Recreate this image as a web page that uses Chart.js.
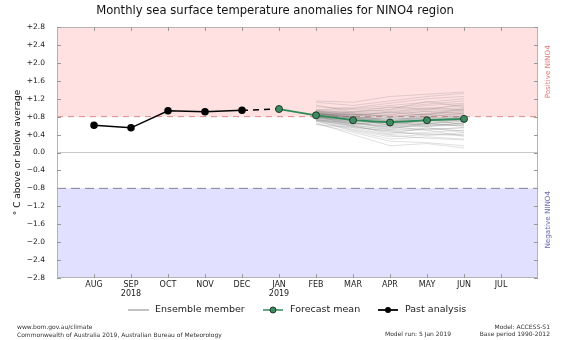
<!DOCTYPE html>
<html>
<head>
<meta charset="utf-8">
<script src="https://cdn.jsdelivr.net/npm/chart.js@4.4.1/dist/chart.umd.min.js"></script>
<style>
    body{margin:0;background:#fff}
    canvas{display:block}
</style>
</head>
<body>
<canvas id="nino4" width="567" height="340"></canvas>
<script>
// month labels, AUG 2018 .. JUL 2019 (x positions 0..11)
const months = [["AUG"],["SEP","2018"],["OCT"],["NOV"],["DEC"],["JAN","2019"],["FEB"],["MAR"],["APR"],["MAY"],["JUN"],["JUL"]]
const yTicks = [-2.8,-2.4,-2.0,-1.6,-1.2,-0.8,-0.4,0.0,0.4,0.8,1.2,1.6,2.0,2.4,2.8]
const threshold = 0.8

// past analysis AUG..DEC
const past = [0.61,0.55,0.93,0.91,0.94]
// forecast mean JAN..JUN
const forecastMean = [0.97,0.83,0.72,0.67,0.72,0.75]
// ensemble members FEB..JUN
const ensemble = [
    [0.83,0.75,0.70,0.78,0.80],
    [0.90,0.85,0.88,0.95,1.00],
    [0.78,0.62,0.50,0.52,0.55],
    [0.95,1.00,1.10,1.20,1.25],
    [0.70,0.50,0.35,0.40,0.38],
    [0.85,0.80,0.72,0.70,0.74],
    [0.88,0.78,0.65,0.62,0.60],
    [0.80,0.70,0.66,0.75,0.82],
    [0.75,0.58,0.45,0.42,0.40],
    [1.12,1.05,1.15,1.25,1.32],
    [0.92,0.88,0.80,0.85,0.90],
    [0.82,0.74,0.72,0.80,0.88],
    [0.64,0.45,0.25,0.22,0.15],
    [0.86,0.82,0.85,0.92,0.96],
    [0.79,0.66,0.58,0.64,0.70],
    [0.84,0.76,0.78,0.88,0.95],
    [0.73,0.55,0.40,0.45,0.50],
    [0.90,0.92,0.95,1.05,1.10],
    [0.81,0.68,0.60,0.58,0.62],
    [0.87,0.80,0.74,0.76,0.78],
    [0.77,0.64,0.55,0.60,0.66],
    [0.94,0.96,1.00,1.08,1.15],
    [0.66,0.40,0.15,0.20,0.10],
    [0.83,0.72,0.62,0.68,0.72],
    [0.89,0.84,0.82,0.86,0.92],
    [0.76,0.60,0.52,0.55,0.48],
    [1.15,1.12,1.25,1.30,1.35],
    [0.80,0.72,0.68,0.72,0.76],
    [0.85,0.78,0.70,0.74,0.70],
    [0.72,0.52,0.38,0.32,0.28],
    [0.91,0.86,0.78,0.82,0.86],
    [0.78,0.70,0.64,0.70,0.78],
    [0.86,0.84,0.90,0.98,1.05],
    [0.74,0.58,0.48,0.50,0.56],
    [0.82,0.76,0.74,0.78,0.74],
    [0.88,0.74,0.60,0.66,0.68],
    [0.70,0.48,0.30,0.35,0.30],
    [1.02,0.98,1.05,1.12,1.20],
    [0.80,0.66,0.56,0.62,0.64],
    [0.84,0.80,0.76,0.80,0.84],
    [0.93,0.82,0.90,0.84,0.98],
    [0.71,0.60,0.42,0.55,0.45],
    [0.87,0.70,0.78,0.70,0.80],
    [0.79,0.78,0.60,0.74,0.62],
    [1.06,0.90,0.96,1.14,1.02],
    [0.74,0.64,0.70,0.58,0.66],
    [0.82,0.86,0.68,0.86,0.76],
    [0.62,0.56,0.48,0.38,0.44],
    [0.90,0.76,0.84,0.92,0.86],
    [0.77,0.68,0.52,0.66,0.58],
    [0.85,0.90,1.02,0.96,1.08],
    [0.72,0.66,0.58,0.50,0.36],
    [0.88,0.80,0.68,0.78,0.72],
    [0.81,0.62,0.70,0.64,0.74],
    [0.95,0.88,0.92,1.00,0.94]
]

const FONT = "'DejaVu Sans', sans-serif"
const GREEN = "#2e8b57"

function pts(values, start){
    return values.map(function(v, i){ return {x: start + i, y: v} })
}

var datasets = []
ensemble.forEach(function(m){
    datasets.push({
        data: pts(m, 6),
        borderColor: "rgba(110,110,110,0.26)",
        borderWidth: 0.8,
        pointRadius: 0,
        order: 3
    })
})
datasets.push({
    data: pts(forecastMean, 5),
    borderColor: GREEN,
    borderWidth: 1.8,
    pointRadius: 3.5,
    pointBackgroundColor: "#3f8a60",
    pointBorderColor: "#1c3a28",
    pointBorderWidth: 1,
    order: 1
})
// dashed link from last analysis to first forecast
datasets.push({
    data: [{x: 4, y: past[past.length-1]}, {x: 5, y: forecastMean[0]}],
    borderColor: "#000",
    borderWidth: 1.5,
    borderDash: [6, 5],
    pointRadius: 0,
    order: 2
})
datasets.push({
    data: pts(past, 0),
    borderColor: "#000",
    borderWidth: 1.5,
    pointRadius: 3,
    pointBackgroundColor: "#000",
    pointBorderColor: "#000",
    order: 0
})

const bands = {
    id: "bands",
    beforeDatasetsDraw(chart){
        const {ctx, chartArea: a, scales: {y}} = chart
        const yp = y.getPixelForValue(threshold)
        const yn = y.getPixelForValue(-threshold)
        const y0 = y.getPixelForValue(0)
        ctx.save()
        ctx.fillStyle = "#ffe1e1"
        ctx.fillRect(a.left, a.top, a.right - a.left, yp - a.top)
        ctx.fillStyle = "#e1e1ff"
        ctx.fillRect(a.left, yn, a.right - a.left, a.bottom - yn)
        ctx.lineWidth = 1
        ctx.strokeStyle = "#c8c8c8"
        ctx.beginPath(); ctx.moveTo(a.left, y0); ctx.lineTo(a.right, y0); ctx.stroke()
        ctx.setLineDash([6, 5])
        ctx.strokeStyle = "#e08a8a"
        ctx.beginPath(); ctx.moveTo(a.left, yp); ctx.lineTo(a.right, yp); ctx.stroke()
        ctx.setLineDash([9, 5])
        ctx.strokeStyle = "#8080a0"
        ctx.beginPath(); ctx.moveTo(a.left, yn); ctx.lineTo(a.right, yn); ctx.stroke()
        ctx.restore()
    },
    afterDatasetsDraw(chart){
        const {ctx, chartArea: a, scales: {x, y}} = chart
        ctx.save()
        ctx.strokeStyle = "#b4b4b4"
        ctx.lineWidth = 1
        ctx.strokeRect(a.left + 0.5, a.top + 0.5, a.right - a.left - 1, a.bottom - a.top - 1)
        ctx.strokeStyle = "#999"
        ctx.beginPath()
        yTicks.forEach(function(v){
            const p = Math.round(y.getPixelForValue(v)) + 0.5
            ctx.moveTo(a.left, p); ctx.lineTo(a.left + 4, p)
            ctx.moveTo(a.right, p); ctx.lineTo(a.right - 4, p)
        })
        months.forEach(function(m, i){
            const p = Math.round(x.getPixelForValue(i)) + 0.5
            ctx.moveTo(p, a.bottom); ctx.lineTo(p, a.bottom - 4)
            ctx.moveTo(p, a.top); ctx.lineTo(p, a.top + 4)
        })
        ctx.stroke()
        ctx.restore()
    },
    afterDraw(chart){
        const {ctx, chartArea: a, scales: {y}} = chart
        ctx.save()
        ctx.fillStyle = "#111"
        ctx.textAlign = "center"
        ctx.textBaseline = "middle"
        ctx.font = "11.6px " + FONT
        ctx.fillText("Monthly sea surface temperature anomalies for NINO4 region", 275, 11)

        // axis titles
        ctx.font = "9px " + FONT
        ctx.save()
        ctx.translate(18, (a.top + a.bottom) / 2)
        ctx.rotate(-Math.PI / 2)
        ctx.fillText("° C above or below average", 0, 0)
        ctx.restore()
        ctx.font = "7.2px " + FONT
        ctx.fillStyle = "#e67878"
        ctx.save()
        ctx.translate(548, y.getPixelForValue(1.8))
        ctx.rotate(-Math.PI / 2)
        ctx.fillText("Positive NINO4", 0, 0)
        ctx.restore()
        ctx.fillStyle = "#6a6ab4"
        ctx.save()
        ctx.translate(548, y.getPixelForValue(-1.5))
        ctx.rotate(-Math.PI / 2)
        ctx.fillText("Negative NINO4", 0, 0)
        ctx.restore()

        // legend
        const ly = 310
        ctx.font = "9.5px " + FONT
        ctx.textAlign = "left"
        ctx.fillStyle = "#222"
        ctx.lineWidth = 1.2
        ctx.strokeStyle = "#999"
        ctx.beginPath(); ctx.moveTo(128, ly); ctx.lineTo(149, ly); ctx.stroke()
        ctx.fillText("Ensemble member", 155, ly)
        ctx.lineWidth = 1.5
        ctx.strokeStyle = GREEN
        ctx.beginPath(); ctx.moveTo(263, ly); ctx.lineTo(283, ly); ctx.stroke()
        ctx.fillStyle = "#3f8a60"; ctx.strokeStyle = "#1c3a28"; ctx.lineWidth = 1
        ctx.beginPath(); ctx.arc(273, ly, 3, 0, Math.PI * 2); ctx.fill(); ctx.stroke()
        ctx.fillStyle = "#222"
        ctx.fillText("Forecast mean", 290, ly)
        ctx.lineWidth = 1.8
        ctx.strokeStyle = "#000"
        ctx.beginPath(); ctx.moveTo(378, ly); ctx.lineTo(398, ly); ctx.stroke()
        ctx.fillStyle = "#000"
        ctx.beginPath(); ctx.arc(388, ly, 3, 0, Math.PI * 2); ctx.fill()
        ctx.fillStyle = "#222"
        ctx.fillText("Past analysis", 405, ly)

        // footer
        ctx.font = "6px " + FONT
        ctx.fillStyle = "#333"
        ctx.fillText("www.bom.gov.au/climate", 17, 327)
        ctx.fillText("Commonwealth of Australia 2019, Australian Bureau of Meteorology", 17, 335)
        ctx.fillText("Model run: 5 Jan 2019", 385, 334)
        ctx.textAlign = "right"
        ctx.fillText("Model: ACCESS-S1", 550, 327)
        ctx.fillText("Base period 1990-2012", 550, 334)
        ctx.restore()
    }
}

function drawChart(){
    const ctx = document.getElementById("nino4").getContext("2d")
    new Chart(ctx, {
        type: "line",
        data: {datasets: datasets},
        options: {
            responsive: false,
            animation: false,
            maintainAspectRatio: false,
            layout: {padding: {top: 27, right: 29, left: 0, bottom: 0}},
            plugins: {legend: {display: false}, tooltip: {enabled: false}},
            scales: {
                x: {
                    type: "linear",
                    min: -1,
                    max: 12,
                    grid: {display: false, drawTicks: false, tickLength: 0},
                    border: {display: false},
                    afterBuildTicks: function(s){ s.ticks = months.map(function(m, i){ return {value: i} }) },
                    afterFit: function(s){ s.height = 62 },
                    ticks: {
                        autoSkip: false,
                        maxRotation: 0,
                        padding: 3,
                        color: "#222",
                        font: {family: FONT, size: 8, lineHeight: 1.1},
                        callback: function(v){ return months[v] }
                    }
                },
                y: {
                    min: -2.8,
                    max: 2.8,
                    grid: {display: false},
                    border: {display: false},
                    afterBuildTicks: function(s){ s.ticks = yTicks.map(function(v){ return {value: v} }) },
                    afterFit: function(s){ s.width = 57 },
                    ticks: {
                        padding: 4,
                        color: "#222",
                        font: {family: FONT, size: 7.5},
                        callback: function(v){
                            if (Math.abs(v) < 1e-9) return "0.0"
                            return (v > 0 ? "+" : "\u2212") + Math.abs(v).toFixed(1)
                        }
                    }
                }
            }
        },
        plugins: [bands]
    })
}
document.addEventListener("DOMContentLoaded", drawChart)
</script>
</body>
</html>
